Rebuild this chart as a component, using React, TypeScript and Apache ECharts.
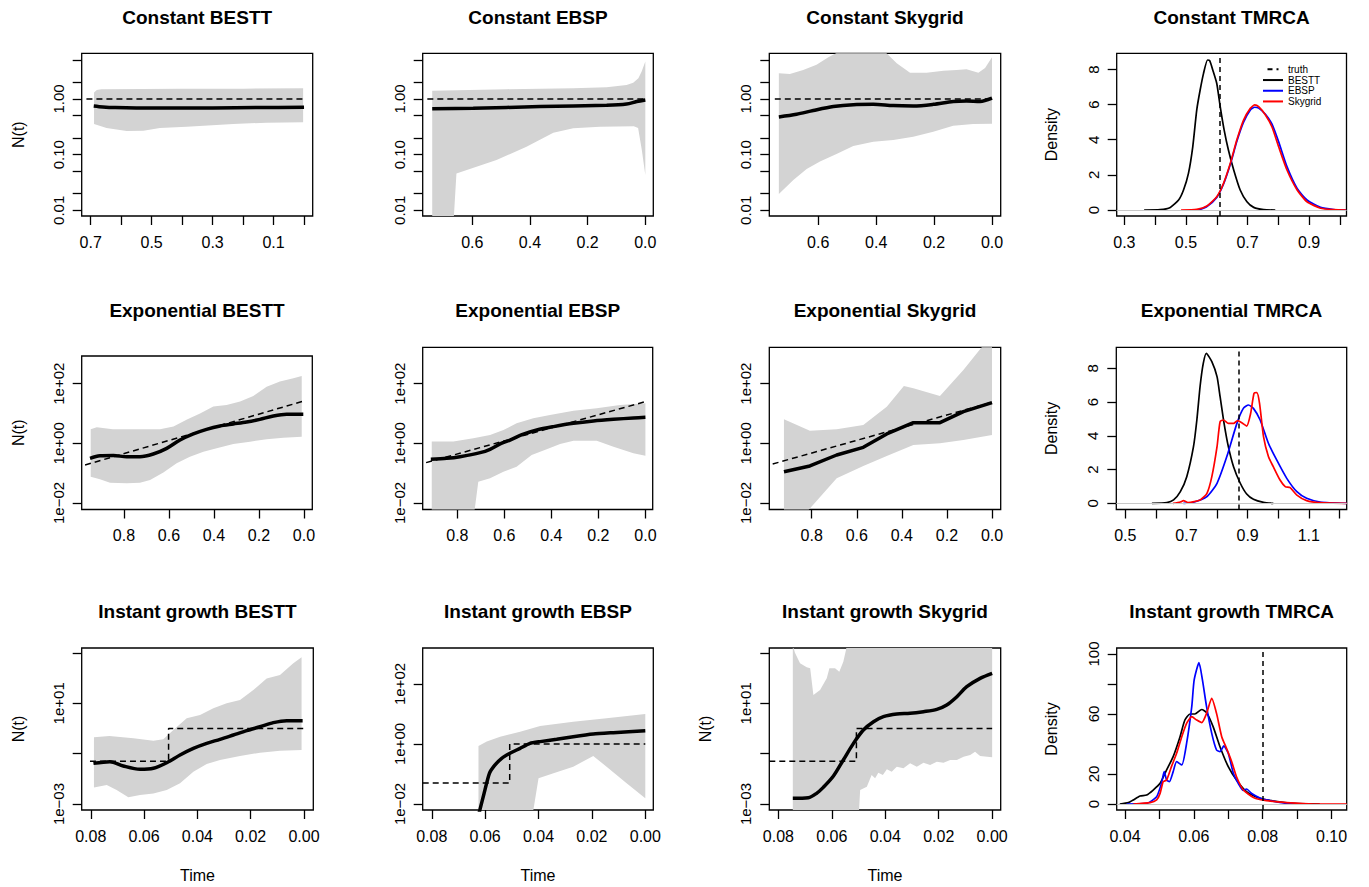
import React, { useEffect, useRef } from "react";
import * as echarts from "echarts";

const FONT = '"Liberation Sans", Arial, Helvetica, sans-serif';

// ===================== N(t) panels: [time, N] =====================
// Constant
const constBesttMedian = [[0.69, 0.75], [0.66, 0.72], [0.62, 0.7], [0.55, 0.69], [0.45, 0.69], [0.3, 0.69], [0.15, 0.7], [0.0, 0.71]];
const constBesttUpper = [[0.689, 1.3], [0.68, 1.45], [0.665, 1.5], [0.4, 1.52], [0.2, 1.53], [0.003, 1.55]];
const constBesttLower = [[0.689, 0.355], [0.648, 0.3], [0.582, 0.266], [0.527, 0.268], [0.473, 0.3], [0.385, 0.318], [0.232, 0.355], [0.123, 0.375], [0.003, 0.38]];
const constBesttTruth = [[0.714, 1], [0, 1]];

const constEbspMedian = [[0.739, 0.67], [0.597, 0.68], [0.365, 0.73], [0.134, 0.77], [0.065, 0.81], [0.03, 0.9], [0, 0.96]];
const constEbspUpper = [[0.739, 1.41], [0.481, 1.5], [0.25, 1.55], [0.134, 1.62], [0.065, 1.78], [0.042, 1.95], [0.024, 2.35], [0.0127, 3.1], [0, 4.7]];
const constEbspLower = [[0.739, 0.001], [0.674, 0.001], [0.655, 0.046], [0.516, 0.08], [0.412, 0.139], [0.319, 0.248], [0.25, 0.297], [0.157, 0.318], [0.04, 0.325], [0.025, 0.3], [0.012, 0.12], [0, 0.043]];
const constEbspTruth = [[0.756, 1], [0, 1]];

const constSkyMedian = [[0.736, 0.475], [0.675, 0.53], [0.617, 0.62], [0.548, 0.73], [0.479, 0.79], [0.41, 0.8], [0.341, 0.76], [0.272, 0.75], [0.203, 0.8], [0.134, 0.9], [0.088, 0.92], [0.041, 0.9], [0, 1.03]];
const constSkyUpper = [[0.736, 2.89], [0.698, 2.8], [0.652, 3.3], [0.606, 4.1], [0.565, 5.6], [0.537, 6.7], [0.5, 9], [0.43, 10], [0.375, 8], [0.364, 6.6], [0.329, 4.4], [0.283, 2.97], [0.226, 2.97], [0.168, 3.2], [0.122, 3.3], [0.088, 3.4], [0.047, 2.97], [0.024, 3.6], [0, 5.6]];
const constSkyLower = [[0.736, 0.0196], [0.686, 0.035], [0.64, 0.055], [0.594, 0.075], [0.537, 0.103], [0.479, 0.143], [0.41, 0.171], [0.341, 0.183], [0.272, 0.21], [0.203, 0.259], [0.134, 0.33], [0.065, 0.355], [0, 0.36]];
const constSkyTruth = [[0.75, 1], [0, 1]];

// Exponential
const expBesttMedian = [[0.951, 0.314], [0.907, 0.38], [0.847, 0.389], [0.788, 0.357], [0.729, 0.357], [0.67, 0.439], [0.61, 0.679], [0.551, 1.29], [0.492, 2.06], [0.433, 2.94], [0.373, 3.81], [0.314, 4.45], [0.255, 5.19], [0.196, 6.37], [0.136, 8.24], [0.077, 9.38], [0.003, 9.38]];
const expBesttUpper = [[0.948, 2.94], [0.921, 3.44], [0.85, 2.94], [0.729, 2.94], [0.64, 2.94], [0.58, 3.63], [0.52, 6.31], [0.462, 10.0], [0.403, 17.0], [0.344, 19.1], [0.284, 25.1], [0.225, 38.9], [0.166, 79.4], [0.107, 117], [0.047, 151], [0.01, 182]];
const expBesttLower = [[0.948, 0.0764], [0.907, 0.0621], [0.862, 0.0481], [0.788, 0.0457], [0.729, 0.0481], [0.684, 0.0589], [0.625, 0.105], [0.566, 0.214], [0.507, 0.357], [0.447, 0.525], [0.388, 0.679], [0.314, 0.95], [0.24, 1.14], [0.166, 1.36], [0.092, 1.55], [0.01, 1.67]];
const expBesttTruth = [[0.973, 0.188], [0, 26.3]];

const expEbspMedian = [[0.913, 0.291], [0.845, 0.314], [0.789, 0.357], [0.703, 0.486], [0.661, 0.631], [0.618, 0.955], [0.576, 1.29], [0.519, 2.04], [0.462, 2.8], [0.391, 3.62], [0.306, 4.68], [0.221, 5.61], [0.136, 6.37], [0.051, 7.06], [0, 7.41]];
const expEbspUpper = [[0.909, 1.14], [0.817, 1.14], [0.732, 1.47], [0.661, 1.91], [0.604, 2.8], [0.548, 4.68], [0.477, 6.89], [0.406, 8.91], [0.306, 12.4], [0.207, 14.9], [0.108, 19.3], [0, 21.9]];
const expEbspLower = [[0.909, 0.001], [0.739, 0.001], [0.711, 0.0519], [0.661, 0.0671], [0.604, 0.112], [0.548, 0.165], [0.484, 0.406], [0.42, 0.631], [0.363, 0.955], [0.306, 1.23], [0.207, 1.23], [0.136, 0.773], [0.051, 0.462], [0, 0.386]];
const expEbspTruth = [[0.933, 0.225], [0, 24.9]];

const expSkyMedian = [[0.923, 0.112], [0.808, 0.174], [0.689, 0.406], [0.571, 0.735], [0.467, 2.06], [0.349, 4.93], [0.231, 4.93], [0.127, 11.5], [0, 23.1]];
const expSkyUpper = [[0.923, 6.37], [0.808, 2.66], [0.689, 2.94], [0.571, 4.12], [0.467, 16.9], [0.391, 83.6], [0.349, 69.8], [0.231, 38.6], [0.127, 287], [0.046, 1660], [0, 3000]];
const expSkyLower = [[0.923, 0.001], [0.82, 0.005], [0.808, 0.0066], [0.689, 0.0671], [0.571, 0.174], [0.467, 0.376], [0.349, 0.879], [0.231, 1.0], [0.127, 1.29], [0, 1.9]];
const expSkyTruth = [[0.973, 0.203], [0, 23.7]];

// Instant growth
const instBesttMedian = [[0.079, 0.0413], [0.0728, 0.0481], [0.0678, 0.0324], [0.0615, 0.024], [0.0565, 0.0263], [0.0515, 0.0437], [0.0465, 0.0891], [0.0415, 0.163], [0.0365, 0.258], [0.0315, 0.372], [0.0265, 0.552], [0.0215, 0.82], [0.0165, 1.18], [0.0115, 1.71], [0.0065, 2.05], [0.0005, 2.05]];
const instBesttUpper = [[0.0788, 0.446], [0.073, 0.504], [0.064, 0.406], [0.0565, 0.329], [0.0528, 0.372], [0.049, 0.871], [0.044, 2.54], [0.039, 3.44], [0.034, 6.32], [0.029, 10], [0.024, 13.5], [0.019, 33.9], [0.014, 97.7], [0.009, 135], [0.004, 389], [0.0009, 676]];
const instBesttLower = [[0.0788, 0.00457], [0.074, 0.00569], [0.0703, 0.00363], [0.0659, 0.00184], [0.0615, 0.00229], [0.0565, 0.00263], [0.0515, 0.00363], [0.0465, 0.00661], [0.0415, 0.0193], [0.0365, 0.0389], [0.0315, 0.0562], [0.024, 0.0813], [0.0165, 0.11], [0.009, 0.132], [0.0009, 0.14]];
const instBesttTruth = [[0.0803, 0.05], [0.0508, 0.05], [0.0508, 1], [0, 1]];

const instEbspMedian = [[0.0629, 0.003], [0.0604, 0.0227], [0.0584, 0.105], [0.0563, 0.2], [0.0538, 0.333], [0.0507, 0.489], [0.0469, 0.718], [0.0432, 1.05], [0.0394, 1.2], [0.0332, 1.43], [0.027, 1.75], [0.0195, 2.15], [0.012, 2.39], [0, 2.78]];
const instEbspUpper = [[0.0625, 0.857], [0.0594, 1.2], [0.0544, 1.75], [0.0469, 2.58], [0.0394, 3.98], [0.027, 5.55], [0.0145, 7.18], [0, 10.0]];
const instEbspLower = [[0.0625, 0.001], [0.0434, 0.001], [0.04, 0.0718], [0.0344, 0.105], [0.027, 0.175], [0.0195, 0.398], [0.0145, 0.175], [0.007, 0.0489], [0, 0.0154]];
const instEbspTruth = [[0.0834, 0.05], [0.0508, 0.05], [0.0508, 1], [0, 1]];

const instSkyMedian = [[0.0746, 0.00168], [0.0688, 0.00178], [0.0657, 0.00265], [0.0632, 0.00457], [0.0594, 0.0129], [0.0557, 0.0562], [0.0519, 0.257], [0.0482, 0.871], [0.0444, 1.86], [0.0407, 2.95], [0.0357, 3.77], [0.0307, 4.01], [0.0257, 4.67], [0.0207, 5.78], [0.017, 8.59], [0.0132, 18.4], [0.0095, 45.9], [0.0045, 98.4], [0, 156]];
const instSkyUpper = [[0.0746, 2000], [0.0738, 1030], [0.0719, 388], [0.0694, 269], [0.0681, 246], [0.0669, 21.4], [0.0644, 33.9], [0.0619, 98.4], [0.0609, 246], [0.0588, 246], [0.0572, 181], [0.0557, 453], [0.0547, 1318], [0.054, 5000], [0, 5000]];
const instSkyLower = [[0.0746, 0.0001], [0.0502, 0.0001], [0.0494, 0.0036], [0.0469, 0.00489], [0.0451, 0.0142], [0.0438, 0.0105], [0.0426, 0.0176], [0.0409, 0.0142], [0.0394, 0.0238], [0.0376, 0.0193], [0.0357, 0.0304], [0.0332, 0.0261], [0.0307, 0.0413], [0.0282, 0.0304], [0.0257, 0.0438], [0.0232, 0.0355], [0.0207, 0.0481], [0.0182, 0.0438], [0.0157, 0.056], [0.0132, 0.056], [0.0107, 0.076], [0.0082, 0.0885], [0.0064, 0.12], [0.0045, 0.0807], [0, 0.0714]];
const instSkyTruth = [[0.0834, 0.05], [0.0508, 0.05], [0.0508, 1], [0, 1]];

// ===================== TMRCA densities: [tmrca, density] =====================
const constTmrcaBestt = [[0.364, 0], [0.416, 0.02], [0.449, 0.15], [0.476, 0.57], [0.492, 1.14], [0.508, 2.09], [0.522, 3.6], [0.535, 5.7], [0.546, 6.83], [0.557, 7.78], [0.57, 8.54], [0.577, 8.5], [0.587, 7.97], [0.6, 7.2], [0.611, 5.9], [0.624, 4.55], [0.638, 3.4], [0.655, 2.28], [0.676, 1.14], [0.698, 0.47], [0.72, 0.15], [0.752, 0.02], [0.79, 0]];
const constTmrcaEbsp = [[0.54, 0], [0.568, 0.2], [0.6, 0.72], [0.622, 1.48], [0.644, 2.6], [0.665, 3.9], [0.687, 5.0], [0.709, 5.7], [0.723, 5.85], [0.736, 5.8], [0.758, 5.45], [0.779, 4.9], [0.801, 3.88], [0.828, 2.47], [0.861, 1.23], [0.893, 0.57], [0.937, 0.15], [0.98, 0.03], [1.02, 0]];
const constTmrcaSky = [[0.484, 0], [0.535, 0.04], [0.568, 0.23], [0.6, 0.76], [0.622, 1.52], [0.644, 2.66], [0.665, 3.98], [0.687, 5.12], [0.709, 5.79], [0.723, 5.98], [0.736, 5.88], [0.758, 5.41], [0.779, 4.74], [0.801, 3.6], [0.828, 2.28], [0.861, 1.14], [0.893, 0.47], [0.937, 0.1], [0.98, 0.02], [1.02, 0]];
const constTmrcaTruth = 0.607;

const expTmrcaBestt = [[0.587, 0], [0.636, 0.04], [0.658, 0.2], [0.68, 0.69], [0.701, 1.58], [0.723, 3.36], [0.734, 4.94], [0.745, 7.0], [0.755, 8.3], [0.765, 8.89], [0.783, 8.4], [0.8, 7.51], [0.81, 6.32], [0.823, 4.74], [0.837, 3.36], [0.854, 2.17], [0.876, 1.19], [0.897, 0.55], [0.919, 0.24], [0.952, 0.06], [0.984, 0]];
const expTmrcaEbsp = [[0.69, 0], [0.72, 0.05], [0.767, 0.4], [0.8, 1.19], [0.832, 2.77], [0.865, 4.74], [0.886, 5.63], [0.903, 5.83], [0.919, 5.63], [0.941, 4.94], [0.968, 3.56], [0.995, 2.57], [1.028, 1.48], [1.061, 0.69], [1.093, 0.3], [1.137, 0.08], [1.224, 0]];
const expTmrcaSky = [[0.656, 0], [0.68, 0.08], [0.69, 0.16], [0.705, 0.05], [0.745, 0.2], [0.767, 0.59], [0.783, 1.58], [0.8, 3.36], [0.81, 4.84], [0.821, 4.94], [0.837, 4.74], [0.854, 4.74], [0.867, 4.9], [0.881, 4.78], [0.897, 4.58], [0.91, 5.34], [0.921, 6.52], [0.93, 6.56], [0.939, 5.93], [0.952, 3.95], [0.968, 2.77], [0.984, 2.17], [1.006, 1.38], [1.023, 0.99], [1.039, 0.93], [1.061, 0.49], [1.093, 0.16], [1.137, 0.04], [1.224, 0]];
const expTmrcaTruth = 0.867;

const instTmrcaBestt = [[0.0385, 0], [0.041, 0.9], [0.0424, 2.7], [0.0444, 5.3], [0.0463, 6], [0.0482, 9.3], [0.0502, 13.8], [0.0521, 22.7], [0.054, 31.6], [0.056, 44.9], [0.0574, 56], [0.0589, 60], [0.0603, 60], [0.0623, 63], [0.0637, 60.9], [0.0656, 51.6], [0.0676, 38.2], [0.07, 24.9], [0.0724, 16], [0.0753, 8.2], [0.0792, 3.8], [0.0831, 2], [0.0889, 0.4], [0.0966, 0]];
const instTmrcaEbsp = [[0.0405, 0], [0.0463, 0.4], [0.0492, 4.9], [0.0506, 13.8], [0.0514, 21.6], [0.0521, 16], [0.0529, 14.9], [0.054, 21.6], [0.055, 28.2], [0.0565, 26], [0.0579, 40.4], [0.0594, 64.9], [0.0601, 82.7], [0.0615, 94.2], [0.0625, 82.7], [0.0637, 64.9], [0.0652, 47.1], [0.0666, 36], [0.0676, 34.9], [0.0687, 38.7], [0.07, 33.8], [0.0715, 20.4], [0.0729, 13.8], [0.0744, 9], [0.0753, 10], [0.0768, 7], [0.0792, 4], [0.0811, 2.7], [0.0869, 0.4], [0.0927, 0]];
const instTmrcaSky = [[0.0424, 0], [0.0473, 0.9], [0.0492, 2.7], [0.0502, 7.1], [0.0511, 14.9], [0.0521, 16], [0.0535, 24.9], [0.055, 33.8], [0.0565, 44.9], [0.0579, 53.8], [0.0594, 58.2], [0.0608, 56], [0.0623, 54.2], [0.0637, 60.4], [0.0652, 70.4], [0.0666, 60.4], [0.0681, 44.9], [0.0695, 37.1], [0.071, 28.2], [0.0724, 18.2], [0.0744, 9.3], [0.0773, 4.4], [0.0811, 2.2], [0.0869, 0.9], [0.0947, 0], [0.1044, 0]];
const instTmrcaTruth = 0.0792;

// ===================== ticks / labels =====================
const ticksConstX7 = [0, 0.1, 0.2, 0.3, 0.4, 0.5, 0.6, 0.7];
const labelsConstX7 = [0.7, 0.5, 0.3, 0.1];
const ticksX6 = [0, 0.2, 0.4, 0.6];
const ticksX8 = [0, 0.2, 0.4, 0.6, 0.8];
const ticksInstX = [0, 0.02, 0.04, 0.06, 0.08];
const ticksConstY = [5, 2, 1, 0.5, 0.2, 0.1, 0.05, 0.02, 0.01];
const labelsConstY = [1, 0.1, 0.01];
const ticksExpY = [100, 1, 0.01];
const ticksInstY = [1000, 10, 0.1, 0.001];
const labelsInstY = [10, 0.001];
const ticksTmrcaConstX = [0.3, 0.4, 0.5, 0.6, 0.7, 0.8, 0.9, 1.0];
const labelsTmrcaConstX = [0.3, 0.5, 0.7, 0.9];
const ticksTmrcaExpX = [0.5, 0.6, 0.7, 0.8, 0.9, 1.0, 1.1, 1.2];
const labelsTmrcaExpX = [0.5, 0.7, 0.9, 1.1];
const ticksTmrcaInstX = [0.04, 0.05, 0.06, 0.07, 0.08, 0.09, 0.1];
const labelsTmrcaInstX = [0.04, 0.06, 0.08, 0.1];
const ticksDens8 = [0, 2, 4, 6, 8];
const ticksDens100 = [0, 20, 40, 60, 80, 100];
const labelsDens100 = [0, 20, 60, 100];

// ===================== panel layout =====================
type P = any;
const nPanels: P[] = [
  { title: "Constant BESTT", box: [81.7, 53.3, 312.7, 216], x: [-0.0284, 0.7295], y: [-2.102, 0.82], xt: ticksConstX7, xl: labelsConstX7, xd: 1, yt: ticksConstY, yl: labelsConstY, yf: "fixed", med: constBesttMedian, up: constBesttUpper, lo: constBesttLower, tr: constBesttTruth, smooth: 0.3 },
  { title: "Constant EBSP", box: [422.7, 53.3, 653.3, 216], x: [-0.0277, 0.772], y: [-2.102, 0.82], xt: ticksX6, xl: ticksX6, xd: 1, yt: ticksConstY, yl: labelsConstY, yf: "fixed", med: constEbspMedian, up: constEbspUpper, lo: constEbspLower, tr: constEbspTruth, smooth: 0.3 },
  { title: "Constant Skygrid", box: [769.3, 53.3, 1000.7, 216], x: [-0.03, 0.769], y: [-2.102, 0.82], xt: ticksX6, xl: ticksX6, xd: 1, yt: ticksConstY, yl: labelsConstY, yf: "fixed", med: constSkyMedian, up: constSkyUpper, lo: constSkyLower, tr: constSkyTruth, smooth: 0.3 },
  { title: "Exponential BESTT", box: [81.7, 356, 312.3, 509.5], x: [-0.037, 0.988], y: [-2.218, 2.927], xt: ticksX8, xl: ticksX8, xd: 1, yt: ticksExpY, yl: ticksExpY, yf: "exp", med: expBesttMedian, up: expBesttUpper, lo: expBesttLower, tr: expBesttTruth, smooth: 0.3 },
  { title: "Exponential EBSP", box: [422.7, 347.3, 652.7, 509.5], x: [-0.031, 0.9475], y: [-2.218, 3.218], xt: ticksX8, xl: ticksX8, xd: 1, yt: ticksExpY, yl: ticksExpY, yf: "exp", med: expEbspMedian, up: expEbspUpper, lo: expEbspLower, tr: expEbspTruth, smooth: 0.3 },
  { title: "Exponential Skygrid", box: [769.3, 347.3, 1000.7, 509.5], x: [-0.0385, 0.988], y: [-2.218, 3.218], xt: ticksX8, xl: ticksX8, xd: 1, yt: ticksExpY, yl: ticksExpY, yf: "exp", med: expSkyMedian, up: expSkyUpper, lo: expSkyLower, tr: expSkyTruth, smooth: false },
  { title: "Instant growth BESTT", box: [81.7, 648, 313.3, 810], x: [-0.0035, 0.0834], y: [-3.238, 3.199], xt: ticksInstX, xl: ticksInstX, xd: 2, yt: ticksInstY, yl: labelsInstY, yf: "exp", med: instBesttMedian, up: instBesttUpper, lo: instBesttLower, tr: instBesttTruth, smooth: 0.3 },
  { title: "Instant growth EBSP", box: [422.7, 648, 653.3, 810], x: [-0.003, 0.0834], y: [-2.2, 3.2], xt: ticksInstX, xl: ticksInstX, xd: 2, yt: ticksExpY, yl: ticksExpY, yf: "exp", med: instEbspMedian, up: instEbspUpper, lo: instEbspLower, tr: instEbspTruth, smooth: 0.2 },
  { title: "Instant growth Skygrid", box: [769.3, 648, 1000.7, 810], x: [-0.0032, 0.0834], y: [-3.238, 3.199], xt: ticksInstX, xl: ticksInstX, xd: 2, yt: ticksInstY, yl: labelsInstY, yf: "exp", med: instSkyMedian, up: instSkyUpper, lo: instSkyLower, tr: instSkyTruth, smooth: 0.3 },
];

const dPanels: P[] = [
  { title: "Constant TMRCA", box: [1116.7, 53.3, 1346.5, 216], x: [0.275, 1.0213], y: [-0.34, 8.92], xt: ticksTmrcaConstX, xl: labelsTmrcaConstX, xd: 1, yt: ticksDens8, yl: ticksDens8, curves: [constTmrcaBestt, constTmrcaEbsp, constTmrcaSky], truth: constTmrcaTruth, names: ["truth", "BESTT", "EBSP", "Skygrid"] },
  { title: "Exponential TMRCA", box: [1116.3, 347.3, 1346.7, 509.5], x: [0.4706, 1.224], y: [-0.366, 9.25], xt: ticksTmrcaExpX, xl: labelsTmrcaExpX, xd: 1, yt: ticksDens8, yl: ticksDens8, curves: [expTmrcaBestt, expTmrcaEbsp, expTmrcaSky], truth: expTmrcaTruth, names: ["truth·e", "BESTT·e", "EBSP·e", "Skygrid·e"] },
  { title: "Instant growth TMRCA", box: [1116.7, 648, 1346.7, 810], x: [0.0376, 0.1044], y: [-4, 104], xt: ticksTmrcaInstX, xl: labelsTmrcaInstX, xd: 2, yt: ticksDens100, yl: labelsDens100, curves: [instTmrcaBestt, instTmrcaEbsp, instTmrcaSky], truth: instTmrcaTruth, names: ["truth·i", "BESTT·i", "EBSP·i", "Skygrid·i"] },
];

const curveColors = ["#000000", "#0000ff", "#ff0000"];

const toLog = (pts: number[][]) => pts.map(([t, n]) => [t, Math.log10(n)]);
const expFmt = (v: number) => {
  const e = Math.round(v);
  return "1e" + (e < 0 ? "\u2212" : "+") + String(Math.abs(e)).padStart(2, "0");
};

function axisPair(p: P, i: number, isLog: boolean, inverse: boolean) {
  const tickStyle = { show: true, length: 9, inside: false, lineStyle: { color: "#000", width: 1.3 } };
  const xAxis = {
    gridIndex: i, type: "value", position: "bottom", min: p.x[0], max: p.x[1], inverse,
    axisLine: { show: false, onZero: false }, splitLine: { show: false },
    axisTick: { ...tickStyle, customValues: p.xt },
    axisLabel: { customValues: p.xl, margin: 18, color: "#000", fontSize: 16, fontFamily: FONT, formatter: (v: number) => v.toFixed(p.xd) },
  };
  const yAxis = {
    gridIndex: i, type: "value", position: "left", min: p.y[0], max: p.y[1],
    axisLine: { show: false, onZero: false }, splitLine: { show: false },
    axisTick: { ...tickStyle, customValues: isLog ? p.yt.map(Math.log10) : p.yt },
    axisLabel: {
      customValues: isLog ? p.yl.map(Math.log10) : p.yl, rotate: 90, margin: 16, color: "#000", fontSize: 15, fontFamily: FONT,
      formatter: (v: number) => (!isLog ? String(Math.round(v)) : p.yf === "fixed" ? Math.pow(10, v).toFixed(2) : expFmt(v)),
    },
  };
  return { xAxis, yAxis };
}

function buildOption() {
  const grid: any[] = [], xAxis: any[] = [], yAxis: any[] = [], series: any[] = [], graphic: any[] = [];
  const addBox = (box: number[]) =>
    grid.push({ left: box[0], top: box[1], width: box[2] - box[0], height: box[3] - box[1], show: true, borderColor: "#000", borderWidth: 1.3, backgroundColor: "transparent" });

  const all = [...nPanels, ...dPanels];
  all.forEach((p) => {
    graphic.push({
      type: "text", x: (p.box[0] + p.box[2]) / 2, y: p.box[1] < 100 ? 17 : p.box[1] < 400 ? 310 : 611,
      style: { text: p.title, font: `bold 19px ${FONT}`, fill: "#000", textAlign: "center", textVerticalAlign: "middle", align: "center", verticalAlign: "middle" },
    });
  });

  nPanels.forEach((p, i) => {
    addBox(p.box);
    const ax = axisPair(p, i, true, true);
    xAxis.push(ax.xAxis);
    yAxis.push(ax.yAxis);
    const poly = [...toLog(p.up), ...toLog(p.lo).reverse()];
    series.push({
      type: "custom", xAxisIndex: i, yAxisIndex: i, clip: true, silent: true, z: 1,
      data: [poly[0]],
      renderItem: (_params: any, api: any) => ({
        type: "polygon",
        shape: { points: poly.map((pt) => api.coord(pt)) },
        style: { fill: "#d3d3d3", lineWidth: 0 },
      }),
    });
    series.push({
      type: "line", xAxisIndex: i, yAxisIndex: i, data: toLog(p.tr), symbol: "none", silent: true, z: 3,
      lineStyle: { color: "#000", width: 1.5, type: [6, 4] },
    });
    series.push({
      type: "line", xAxisIndex: i, yAxisIndex: i, data: toLog(p.med), symbol: "none", silent: true, z: 4, smooth: p.smooth,
      lineStyle: { color: "#000", width: 3.5 },
    });
  });

  dPanels.forEach((p, j) => {
    const i = nPanels.length + j;
    addBox(p.box);
    const ax = axisPair(p, i, false, false);
    xAxis.push(ax.xAxis);
    yAxis.push(ax.yAxis);
    series.push({
      name: p.names[0], type: "line", xAxisIndex: i, yAxisIndex: i, data: [[p.truth, 0]], symbol: "none", silent: true, z: 5,
      lineStyle: { color: "#000", width: 1.5, type: [5, 4] },
      markLine: {
        silent: true, symbol: ["none", "none"], label: { show: false },
        data: [{ xAxis: p.truth, lineStyle: { color: "#000", width: 1.5, type: [5, 4] } }, { yAxis: 0, lineStyle: { color: "#c8c8c8", width: 1, type: "solid" } }],
      },
    });
    p.curves.forEach((c: number[][], k: number) => {
      series.push({
        name: p.names[k + 1], type: "line", xAxisIndex: i, yAxisIndex: i, data: c, symbol: "none", silent: true, z: 4 + k * 0.1, smooth: 0.2,
        lineStyle: { color: curveColors[k], width: 1.7 }, itemStyle: { color: curveColors[k] },
      });
    });
  });

  // axis titles
  const rowMid = (b: number[]) => (b[1] + b[3]) / 2;
  const ylab = (text: string, x: number, y: number) =>
    graphic.push({ type: "text", x, y, rotation: Math.PI / 2, style: { text, font: `16px ${FONT}`, fill: "#000", textAlign: "center", textVerticalAlign: "middle", align: "center", verticalAlign: "middle" } });
  ylab("N(t)", 18.3, rowMid(nPanels[0].box));
  ylab("N(t)", 18.3, rowMid(nPanels[3].box));
  ylab("N(t)", 18.3, rowMid(nPanels[6].box));
  ylab("N(t)", 705, rowMid(nPanels[8].box));
  dPanels.forEach((p) => ylab("Density", 1051.7, rowMid(p.box)));
  [6, 7, 8].forEach((k) => {
    const b = nPanels[k].box;
    graphic.push({ type: "text", x: (b[0] + b[2]) / 2, y: 875, style: { text: "Time", font: `16px ${FONT}`, fill: "#000", textAlign: "center", textVerticalAlign: "middle", align: "center", verticalAlign: "middle" } });
  });

  return {
    animation: false,
    backgroundColor: "#ffffff",
    textStyle: { fontFamily: FONT },
    grid, xAxis, yAxis, series, graphic,
    legend: [{
      data: [
        { name: "truth", icon: "path://M0,0h5v2h-5zM9,0h2v2h-2z", itemStyle: { color: "#000" } },
        { name: "BESTT", icon: "rect", itemStyle: { color: "#000" } },
        { name: "EBSP", icon: "rect", itemStyle: { color: "#0000ff" } },
        { name: "Skygrid", icon: "rect", itemStyle: { color: "#ff0000" } },
      ],
      left: 1263, top: 64, orient: "vertical", itemWidth: 20, itemHeight: 2, itemGap: 0, padding: 0,
      selectedMode: false, textStyle: { fontSize: 10, color: "#000", fontFamily: FONT, lineHeight: 10.7 },
    }],
  };
}

export default function App() {
  const ref = useRef<HTMLDivElement>(null);
  useEffect(() => {
    const chart = echarts.init(ref.current!, null, { renderer: "svg" });
    chart.setOption(buildOption() as any);
    return () => chart.dispose();
  }, []);
  return <div ref={ref} style={{ position: "fixed", left: 0, top: 0, width: 1369, height: 887, background: "#fff" }} />;
}
